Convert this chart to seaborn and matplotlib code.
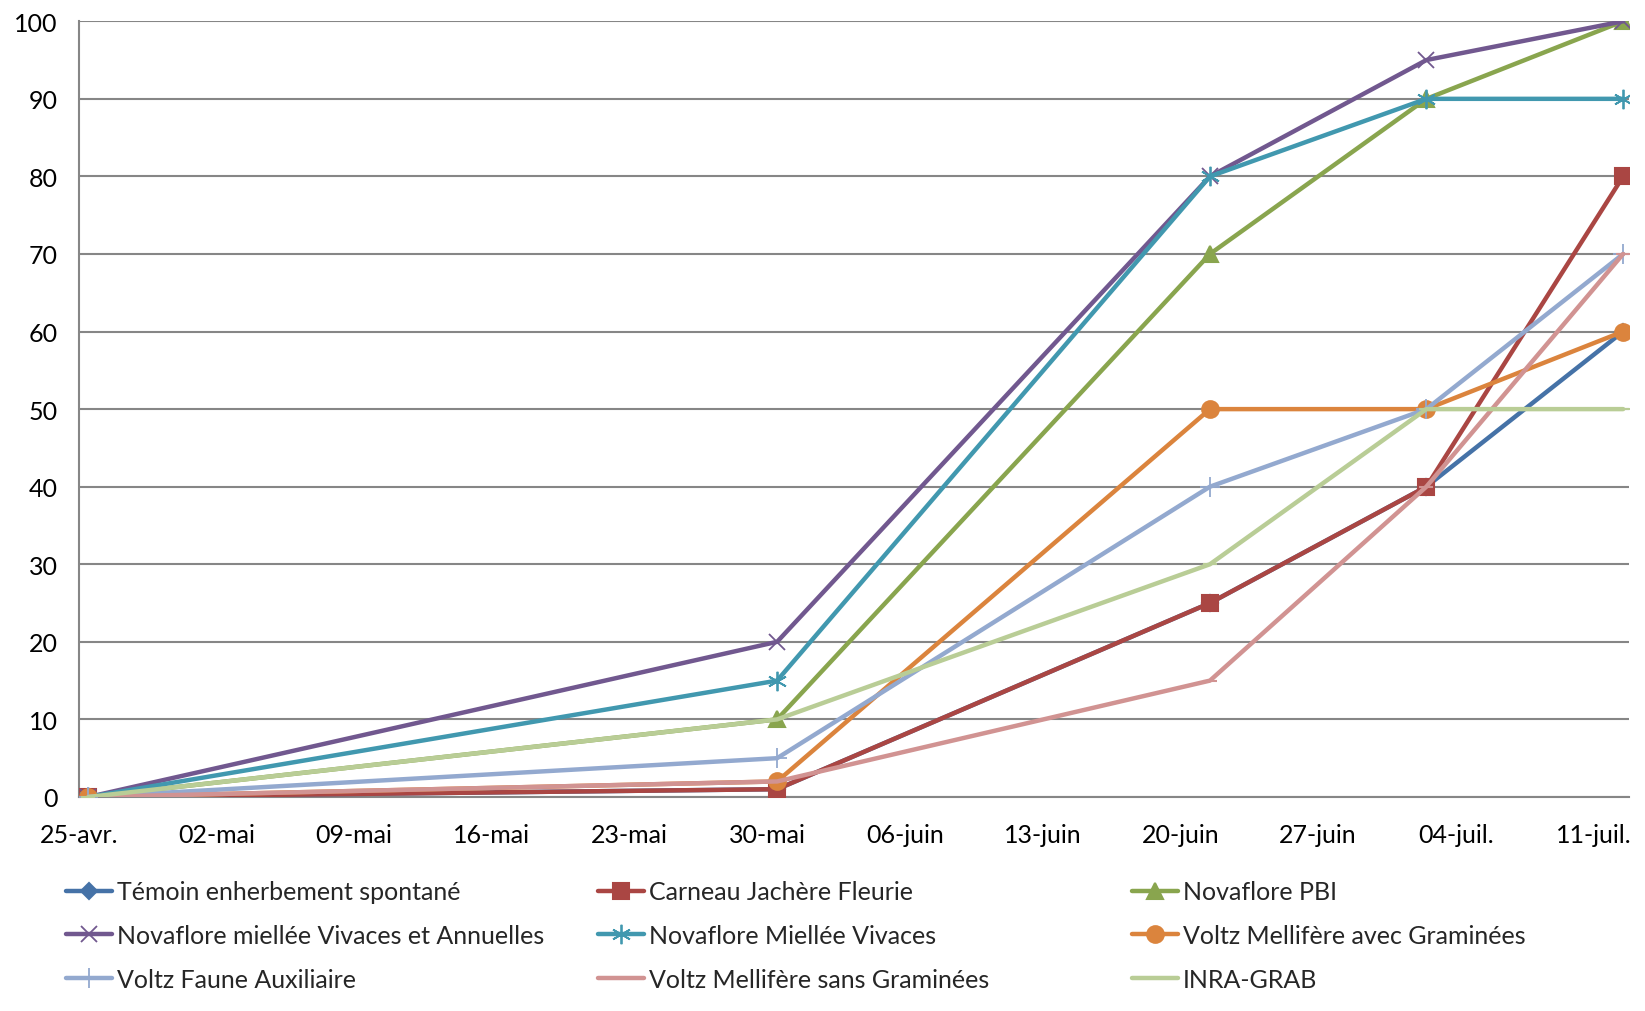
import pandas as pd
import numpy as np
import matplotlib
matplotlib.use("Agg")
import matplotlib.pyplot as plt
import matplotlib.dates as mdates
import seaborn as sns

# Observation dates and ground-cover percentages per seed mix
dates = ["2013-04-25", "2013-05-30", "2013-06-21", "2013-07-02", "2013-07-12"]
series_names = [
    "Témoin enherbement spontané",
    "Carneau Jachère Fleurie",
    "Novaflore PBI",
    "Novaflore miellée Vivaces et Annuelles",
    "Novaflore Miellée Vivaces",
    "Voltz Mellifère avec Graminées",
    "Voltz Faune Auxiliaire",
    "Voltz Mellifère sans Graminées",
    "INRA-GRAB",
]
temoin = [0, 1, 25, 40, 60]
carneau = [0, 1, 25, 40, 80]
novaflore_pbi = [0, 10, 70, 90, 100]
novaflore_va = [0, 20, 80, 95, 100]
novaflore_v = [0, 15, 80, 90, 90]
voltz_avec = [0, 2, 50, 50, 60]
voltz_faune = [0, 5, 40, 50, 70]
voltz_sans = [0, 2, 15, 40, 70]
inra_grab = [0, 10, 30, 50, 50]
tick_labels = ["25-avr.", "02-mai", "09-mai", "16-mai", "23-mai", "30-mai",
               "06-juin", "13-juin", "20-juin", "27-juin", "04-juil.", "11-juil."]

values = [temoin, carneau, novaflore_pbi, novaflore_va, novaflore_v,
          voltz_avec, voltz_faune, voltz_sans, inra_grab]
colors = ["#4572A7", "#AA4643", "#89A54E", "#71588F", "#4198AF",
          "#DB843D", "#93A9CF", "#D19392", "#B9CD96"]
markers = ["D", "s", "^", "x", (6, 2, 0), "o", "+", "_", "_"]
msizes = [8, 11, 12, 12, 14, 12, 14, 10, 10]
thin = ("x", "+", (6, 2, 0))

sns.set_theme(style="white")
plt.rcParams["font.family"] = ["Lato", "DejaVu Sans"]

rows = []
for name, vals in zip(series_names, values):
    for d, v in zip(dates, vals):
        rows.append({"serie": name, "date": pd.Timestamp(d), "valeur": v})
df = pd.DataFrame(rows)
# each value sits in the middle of its day, as on a day-based date axis
df["x"] = mdates.date2num(df["date"]) + 0.5

fig = plt.figure(figsize=(16.45, 10.12), dpi=100)
ax = fig.add_axes([0.0478, 0.2115, 0.9425, 0.7665])

handles = []
for name, col, mk, ms in zip(series_names, colors, markers, msizes):
    sub = df[df["serie"] == name]
    mew = 1.3 if mk in thin else 1.5
    sns.lineplot(data=sub, x="x", y="valeur", ax=ax, color=col, linewidth=3.2,
                 marker=mk, markersize=ms, markeredgecolor=col,
                 markeredgewidth=mew, legend=False, zorder=3)
    handles.append(plt.Line2D([], [], color=col, linewidth=3.2, marker=mk,
                              markersize=ms, markeredgecolor=col,
                              markeredgewidth=mew))

start = mdates.date2num(pd.Timestamp("2013-04-25"))
ax.set_xlim(start, start + 78.8)
ax.set_ylim(0, 100)
ax.set_xticks(start + 7 * np.arange(len(tick_labels)))
ax.set_xticklabels(tick_labels)
ax.set_yticks(np.arange(0, 101, 10))
ax.set_xlabel("")
ax.set_ylabel("")

grid_col = "#868686"
ax.yaxis.grid(True, color=grid_col, linewidth=1.5)
ax.xaxis.grid(False)
ax.set_axisbelow(True)
for s in ["top", "right"]:
    ax.spines[s].set_visible(False)
for s in ["left", "bottom"]:
    ax.spines[s].set_color(grid_col)
    ax.spines[s].set_linewidth(1.5)
ax.tick_params(axis="both", which="major", direction="out", length=9, width=1.5,
               color=grid_col, labelsize=18, labelcolor="black", pad=6)
ax.tick_params(axis="x", pad=10)

# legend laid out in three fixed-width columns, filled row by row
col_x = [0.034, 0.3575, 0.682]
for c in range(3):
    idx = [c, c + 3, c + 6]
    fig.legend([handles[i] for i in idx], [series_names[i] for i in idx],
               loc="upper left", bbox_to_anchor=(col_x[c], 0.139),
               frameon=False, fontsize=18, handlelength=1.85,
               handletextpad=0.2, labelspacing=0.83, borderaxespad=0)

fig.savefig("out.png", dpi=100)
